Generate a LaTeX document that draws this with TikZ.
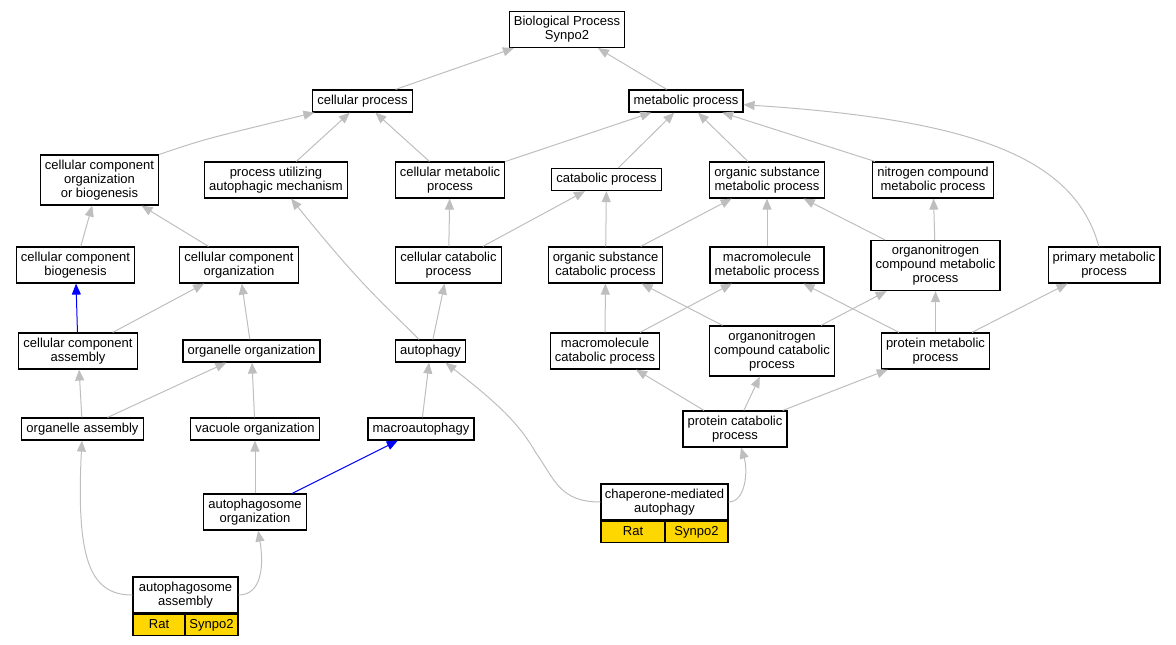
\documentclass[tikz,border=0pt]{standalone}
\usepackage{fontspec}
\setmainfont{Liberation Sans}
\usetikzlibrary{arrows.meta}
\definecolor{isagray}{HTML}{BEBEBE}
\definecolor{genegold}{HTML}{FFD700}

\begin{document}
\begin{tikzpicture}[x=1pt,y=-1pt,
term/.style={draw=black, line width=1.2pt, fill=white, align=center, inner xsep=4.6pt, inner ysep=1pt, minimum height=22pt, font=\fontsize{13}{14}\selectfont},
two/.style={minimum height=36pt},
three/.style={minimum height=50pt},
gene/.style={draw=black, line width=1.2pt, fill=genegold, minimum height=21pt, inner sep=0pt, text height=9.4pt, text depth=2.8pt, font=\fontsize{13}{14}\selectfont},
isa/.style={draw=isagray, line width=1pt, -{Triangle[length=11pt,width=9pt]}},
partof/.style={draw=blue, line width=1pt, -{Triangle[length=11pt,width=9pt]}}]
\useasboundingbox (0,0) rectangle (1176,645);
\node[term,two] (bp) at (567,29.5) {Biological Process\\Synpo2};
\node[term] (cp) at (362.5,101) {cellular process};
\node[term] (mp) at (686,101) {metabolic process};
\node[term,three] (cccob) at (99.5,180) {cellular component\\organization\\or biogenesis};
\node[term,two] (puam) at (276,180) {process utilizing\\autophagic mechanism};
\node[term,two] (cmp) at (450,180) {cellular metabolic\\process};
\node[term] (catp) at (606.5,179.5) {catabolic process};
\node[term,two] (osmp) at (767,180) {organic substance\\metabolic process};
\node[term,two] (ncmp) at (933,180) {nitrogen compound\\metabolic process};
\node[term,two] (ccb) at (75.5,265) {cellular component\\biogenesis};
\node[term,two] (cco) at (239,265) {cellular component\\organization};
\node[term,two] (ccp) at (448.5,265) {cellular catabolic\\process};
\node[term,two] (oscp) at (605.5,265) {organic substance\\catabolic process};
\node[term,two] (mmp) at (767,265) {macromolecule\\metabolic process};
\node[term,three] (oncmp) at (935.5,265.5) {organonitrogen\\compound metabolic\\process};
\node[term,two] (prim) at (1104,265) {primary metabolic\\process};
\node[term,two] (cca) at (78,351) {cellular component\\assembly};
\node[term] (oo) at (251.5,351) {organelle organization};
\node[term] (aut) at (430.5,351) {autophagy};
\node[term,two] (mcp) at (605,351) {macromolecule\\catabolic process};
\node[term,three] (onccp) at (772,351) {organonitrogen\\compound catabolic\\process};
\node[term,two] (pmp) at (935.5,351) {protein metabolic\\process};
\node[term] (oa) at (82.5,429) {organelle assembly};
\node[term] (vo) at (255,429) {vacuole organization};
\node[term] (mac) at (421,429) {macroautophagy};
\node[term,two] (pcp) at (735,429) {protein catabolic\\process};
\node[term,two] (aorg) at (255,512) {autophagosome\\organization};
\node[term,two,minimum width=127pt,inner xsep=3pt] (cma) at (664.5,502) {chaperone-mediated\\autophagy};
\node[gene,minimum width=64pt,anchor=north west] (cmarat) at (cma.south west) {Rat};
\node[gene,minimum width=63pt,anchor=north east] (cmagene) at (cma.south east) {Synpo2};
\node[term,two,minimum width=105pt,inner xsep=3pt] (aasm) at (185.5,595) {autophagosome\\assembly};
\node[gene,minimum width=52pt,anchor=north west] (aasmrat) at (aasm.south west) {Rat};
\node[gene,minimum width=53pt,anchor=north east] (aasmgene) at (aasm.south east) {Synpo2};
\draw[isa] (cp)--(bp);
\draw[isa] (mp)--(bp);
\draw[isa] (cccob.north east) .. controls (205,139) .. (cp);
\draw[isa] (puam)--(cp);
\draw[isa] (cmp)--(cp);
\draw[isa] (cmp)--(mp);
\draw[isa] (catp)--(mp);
\draw[isa] (osmp)--(mp);
\draw[isa] (ncmp)--(mp);
\draw[isa] (prim) .. controls (1075,160) and (980,120) .. (mp);
\draw[isa] (ccb)--(cccob);
\draw[isa] (cco)--(cccob);
\draw[isa] (ccp)--(cmp);
\draw[isa] (ccp)--(catp);
\draw[isa] (oscp)--(catp);
\draw[isa] (oscp)--(osmp);
\draw[isa] (mmp)--(osmp);
\draw[isa] (oncmp)--(osmp);
\draw[isa] (oncmp)--(ncmp);
\draw[partof] (cca)--(ccb);
\draw[isa] (cca)--(cco);
\draw[isa] (oo)--(cco);
\draw[isa] (aut) .. controls (385,305) and (365,290) .. (puam);
\draw[isa] (aut)--(ccp);
\draw[isa] (mcp)--(oscp);
\draw[isa] (mcp)--(mmp);
\draw[isa] (onccp)--(oscp);
\draw[isa] (onccp)--(oncmp);
\draw[isa] (pmp)--(mmp);
\draw[isa] (pmp)--(oncmp);
\draw[isa] (pmp)--(prim);
\draw[isa] (oa)--(cca);
\draw[isa] (oa)--(oo);
\draw[isa] (vo)--(oo);
\draw[isa] (mac)--(aut);
\draw[isa] (pcp)--(mcp);
\draw[isa] (pcp)--(onccp);
\draw[isa] (pcp)--(pmp);
\draw[isa] (aorg)--(vo);
\draw[partof] (aorg)--(mac);
\draw[isa] (cma.west) .. controls (560,502) and (555,480) .. (536,453) .. controls (520,425) and (500,405) .. (aut);
\draw[isa] (cma.east) .. controls (746,502) and (748,470) .. (pcp);
\draw[isa] (aasm.west) .. controls (90,595) and (76,560) .. (oa);
\draw[isa] (aasm.east) .. controls (262,595) and (264,565) .. (aorg);
\end{tikzpicture}
\end{document}
